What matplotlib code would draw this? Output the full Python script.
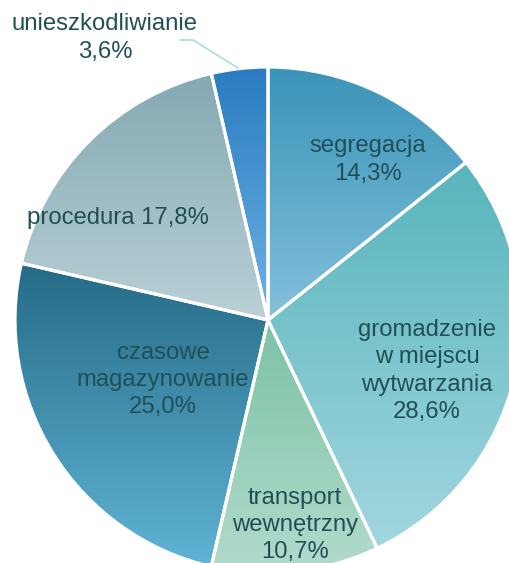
import numpy as np
import matplotlib
matplotlib.use("Agg")
import matplotlib.pyplot as plt
from matplotlib.colors import LinearSegmentedColormap

plt.rcParams['font.family'] = ['Liberation Sans', 'DejaVu Sans']

# Data
categories = ["segregacja", "gromadzenie\nw miejscu\nwytwarzania", "transport\nwewnętrzny",
              "czasowe\nmagazynowanie", "procedura", "unieszkodliwianie"]
values = [14.3, 28.6, 10.7, 25.0, 17.8, 3.6]
value_labels = ["14,3%", "28,6%", "10,7%", "25,0%", "17,8%", "3,6%"]

# Styles (top colour, bottom colour of vertical gradient)
grad_colors = [("#3a94b8", "#84c0dd"),
               ("#58b4bb", "#a2d7e0"),
               ("#7cc2a6", "#b2dbcc"),
               ("#256b87", "#60b4d5"),
               ("#84a9b3", "#b9d0d6"),
               ("#2a7bc1", "#6fb2e5")]
text_color = "#214f56"

W, H = 510, 563
fig = plt.figure(figsize=(W / 100, H / 100), dpi=100)
ax = fig.add_axes([0, 0, 1, 1])

cx, cy, R = 268, H - 320, 253
wedges, _ = ax.pie(values, startangle=90, counterclock=False, radius=R,
                   center=(cx, cy), frame=True,
                   wedgeprops=dict(facecolor='none', edgecolor='white', linewidth=2.3, zorder=3))

grad = np.linspace(0, 1, 256).reshape(-1, 1)
for w, (ctop, cbot) in zip(wedges, grad_colors):
    ext = w.get_path().get_extents()
    cmap = LinearSegmentedColormap.from_list("g", [ctop, cbot])
    im = ax.imshow(grad, cmap=cmap, extent=(ext.x0, ext.x1, ext.y0, ext.y1),
                   origin='upper', aspect='auto', zorder=1, interpolation='bilinear')
    im.set_clip_path(w)

ax.set_xlim(0, W)
ax.set_ylim(0, H)
ax.set_aspect('equal')
ax.axis('off')

fs = 17.2
label_pos = [(368, 160), (427, 371), (295, 525), (163, 380), (118, 218), (105, 38)]
for i, (cat, val) in enumerate(zip(categories, value_labels)):
    x, y = label_pos[i]
    if cat == "procedura":
        txt = f"{cat} {val}"
    else:
        txt = f"{cat}\n{val}"
    ax.text(x, H - y, txt, ha='center', va='center', fontsize=fs, color=text_color,
            linespacing=1.3, zorder=5)

# leader line for small slice
ax.plot([180, 193, 238], [H - 40, H - 40, H - 68], color="#a8dce0", lw=1.2, zorder=4)

fig.savefig("out.png", dpi=100)
